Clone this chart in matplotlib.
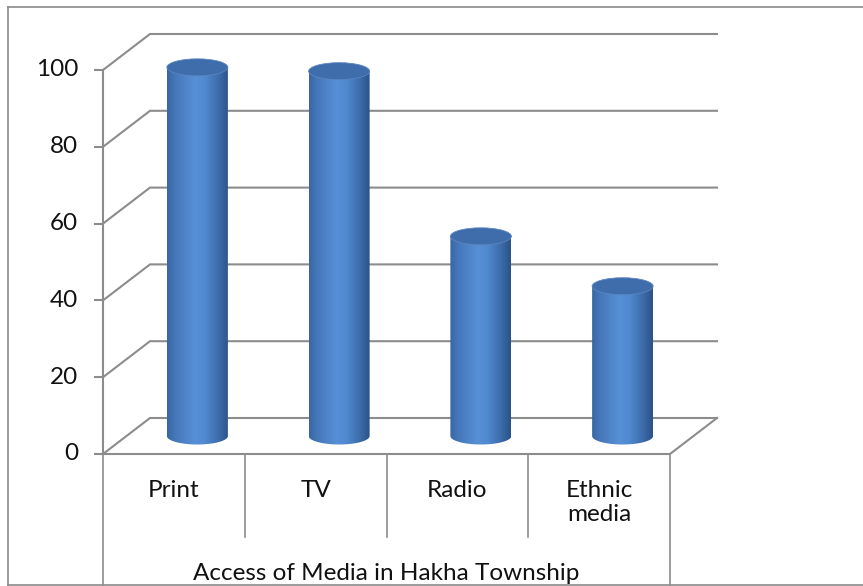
import numpy as np
import matplotlib
matplotlib.use("Agg")
import matplotlib.pyplot as plt
from matplotlib.path import Path
from matplotlib.patches import PathPatch, Ellipse
from matplotlib.colors import LinearSegmentedColormap

# ---- data ----
categories = ["Print", "TV", "Radio", "Ethnic\nmedia"]
values = [96, 95, 52, 39]
y_ticks = [0, 20, 40, 60, 80, 100]
axis_title = "Access of Media in Hakha Township"

# ---- layout (pixel space) ----
W_PX, H_PX = 863, 586
X0, Y0 = 103, 454          # front-left corner of floor
CAT_W = 141.75              # width per category
DX, DY = 47, -36            # depth offset (front -> back)
S = 3.84                    # px per value unit
R, B = 30.5, 8.5            # cylinder radius / ellipse semi-minor

GRID = "#8c8c8c"
LW = 1.5

def proj(c, v, d):
    return X0 + c * CAT_W + d * DX, Y0 - v * S + d * DY

fig = plt.figure(figsize=(W_PX / 100, H_PX / 100), dpi=100)
ax = fig.add_axes([0, 0, 1, 1])
ax.axis("off")

font = "Lato"
fs = 17.5
ncat = len(categories)

# outer chart border
ax.plot([8, 8], [7, 585], color="#8a8a8a", lw=1.2, zorder=1)
ax.plot([8, W_PX], [7, 7], color="#8a8a8a", lw=1.2, zorder=1)
ax.plot([8, W_PX], [585, 585], color="#8a8a8a", lw=1.2, zorder=1)

# gridlines on back wall + side wall diagonals
for v in y_ticks:
    xb0, yb0 = proj(0, v, 1)
    xb1, yb1 = proj(ncat, v, 1)
    xf, yf = proj(0, v, 0)
    ax.plot([xf, xb0, xb1], [yf, yb0, yb1], color=GRID, lw=LW, zorder=2,
            solid_joinstyle="miter")
    # tick mark
    ax.plot([xf - 8, xf], [yf, yf], color=GRID, lw=LW, zorder=2)
    ax.text(xf - 25, yf, str(v), ha="right", va="center", fontsize=fs,
            family=font, color="#111111")

# floor front and right edges
fx0, fy0 = proj(0, 0, 0)
fx1, fy1 = proj(ncat, 0, 0)
bx1, by1 = proj(ncat, 0, 1)
ax.plot([fx0, fx1, bx1], [fy0, fy1, by1], color=GRID, lw=LW, zorder=2,
        solid_joinstyle="miter")
# value axis line
tx, ty = proj(0, max(y_ticks), 0)
ax.plot([fx0, tx], [fy0, ty], color=GRID, lw=LW, zorder=2)

# category table lines
for k in range(ncat + 1):
    x, y = proj(k, 0, 0)
    yend = 585 if k in (0, ncat) else 537
    ax.plot([x, x], [y, yend], color=GRID, lw=1.2, zorder=2)

# category labels
for i, lab in enumerate(categories):
    x, _ = proj(i + 0.5, 0, 0)
    ax.text(x, 480, lab, ha="center", va="top", fontsize=fs, family=font,
            color="#111111", linespacing=1.2)
ax.text((fx0 + fx1) / 2, 573, axis_title, ha="center", va="center",
        fontsize=fs, family=font, color="#111111")

# cylinders
cmap = LinearSegmentedColormap.from_list(
    "cyl", [(0.0, "#3866a3"), (0.12, "#4576b8"), (0.45, "#5790d6"),
            (0.62, "#5089cf"), (0.85, "#3b6aa8"), (1.0, "#2b5287")])
grad = np.linspace(0, 1, 256)[None, :]
for i, v in enumerate(values):
    cx, ytop = proj(i + 0.5, v, 0.5)
    _, ybot = proj(i + 0.5, 0, 0.5)
    t = np.linspace(np.pi, 0, 60)
    pts = [(cx - R, ytop), (cx - R, ybot)]
    pts += list(zip(cx + R * np.cos(t), ybot + B * np.sin(t)))
    pts += [(cx + R, ytop)]
    path = Path(pts + [pts[0]], [Path.MOVETO] + [Path.LINETO] * (len(pts) - 1) + [Path.CLOSEPOLY])
    patch = PathPatch(path, facecolor="none", edgecolor="none", zorder=3)
    ax.add_patch(patch)
    im = ax.imshow(grad, cmap=cmap, aspect="auto", interpolation="bilinear",
                   extent=(cx - R, cx + R, ybot + B + 1, ytop - 1), zorder=3)
    im.set_clip_path(patch)
    top = Ellipse((cx, ytop), 2 * R, 2 * B, facecolor="#3f6dab",
                  edgecolor="#5a86c0", lw=0.6, zorder=4)
    ax.add_patch(top)

ax.set_xlim(0, W_PX)
ax.set_ylim(H_PX, 0)
ax.set_aspect("auto")
fig.savefig("out.png", dpi=100)
